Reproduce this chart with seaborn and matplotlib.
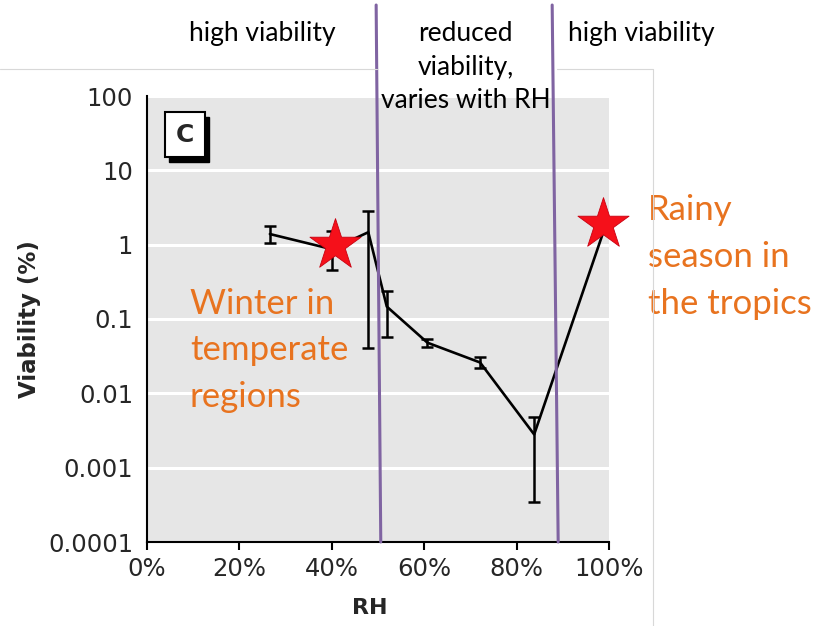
import matplotlib
matplotlib.use("Agg")
import matplotlib.pyplot as plt
import matplotlib.patches as mpatches
import matplotlib.transforms as mtransforms
import seaborn as sns
import pandas as pd
import numpy as np

# ---- data ----
rh = [26.6, 40.0, 47.9, 51.9, 60.7, 72.1, 83.8, 99.0]
viability = [1.39, 0.87, 1.47, 0.147, 0.048, 0.026, 0.0028, 1.63]
err_high = [1.8, 1.55, 2.87, 0.235, 0.054, 0.031, 0.0048, 1.86]
err_low = [1.04, 0.45, 0.041, 0.057, 0.042, 0.022, 0.00035, 1.47]

star_rh = [40.7, 98.7]
star_viability = [1.0, 1.9]

x_ticks = [0, 20, 40, 60, 80, 100]
x_labels = ["0%", "20%", "40%", "60%", "80%", "100%"]
y_ticks = [0.0001, 0.001, 0.01, 0.1, 1, 10, 100]
y_labels = ["0.0001", "0.001", "0.01", "0.1", "1", "10", "100"]

boundary_top = [49.6, 87.7]
boundary_bottom = [50.6, 89.0]

df = pd.DataFrame({"RH": rh, "Viability": viability})
stars = pd.DataFrame({"RH": star_rh, "Viability": star_viability})

sns.set_style("darkgrid", {"axes.facecolor": "#E6E6E6", "grid.color": "white",
                           "axes.edgecolor": "black"})
plt.rcParams["font.family"] = ["DejaVu Sans"]

fig = plt.figure(figsize=(8.17, 6.26), dpi=100)
ax = fig.add_axes([147 / 817, 84 / 626, 462 / 817, 446 / 626])

ax.set_yscale("log")
ax.set_xlim(0, 100)
ax.set_ylim(0.0001, 100)

ax.grid(True, axis="y", color="white", linewidth=2.2)
ax.grid(False, axis="x")

# error bars
yerr = [np.array(viability) - np.array(err_low), np.array(err_high) - np.array(viability)]
ax.errorbar(rh, viability, yerr=yerr, fmt="none", ecolor="black", elinewidth=1.8,
            capsize=4.5, capthick=1.8, zorder=3)
sns.lineplot(data=df, x="RH", y="Viability", ax=ax, color="black", linewidth=1.9,
             sort=False, zorder=4)

# stars
sns.scatterplot(data=stars, x="RH", y="Viability", ax=ax, marker="*", s=1500,
                color="#F5101A", edgecolor="#C80010", linewidth=0.6, zorder=5,
                clip_on=False)

# boundary lines (partly above the axes)
trans = mtransforms.blended_transform_factory(ax.transData, ax.transAxes)
for xt, xb in zip(boundary_top, boundary_bottom):
    ax.plot([xt, xb], [1.204, 0.0], transform=trans, color="#8064A2", linewidth=2.2,
            clip_on=False, zorder=6)

# ticks
ax.set_xticks(x_ticks)
ax.set_xticklabels(x_labels)
ax.set_yticks(y_ticks)
ax.set_yticklabels(y_labels)
ax.yaxis.set_minor_locator(matplotlib.ticker.NullLocator())
ax.tick_params(axis="x", direction="out", length=6, width=1.5, color="black",
               labelsize=17.5, labelcolor="#262626", pad=5, bottom=True)
ax.tick_params(axis="y", length=0, labelsize=17.5, labelcolor="#262626", pad=10)

for side in ["top", "right"]:
    ax.spines[side].set_visible(False)
for side in ["left", "bottom"]:
    ax.spines[side].set_visible(True)
    ax.spines[side].set_color("black")
    ax.spines[side].set_linewidth(1.5)

ax.set_xlabel("RH", fontsize=16, fontweight="bold", labelpad=12)
ax.xaxis.label.set_x(0.482)
ax.set_ylabel("Viability (%)", fontsize=16.5, fontweight="bold", labelpad=5)

# panel "C" box with shadow
ax.add_patch(mpatches.Rectangle((0.048, 0.853), 0.087, 0.101, transform=ax.transAxes,
                                facecolor="black", edgecolor="black", zorder=7))
ax.add_patch(mpatches.Rectangle((0.039, 0.863), 0.087, 0.101, transform=ax.transAxes,
                                facecolor="white", edgecolor="black", linewidth=1.5, zorder=8))
ax.text(0.0825, 0.913, "C", transform=ax.transAxes, ha="center", va="center",
        fontsize=18, fontweight="bold", zorder=9)

# region labels above
lab_font = dict(family=["Lato", "DejaVu Sans"], fontsize=19, color="black")
ax.text(24.9, 1.141, "high viability", transform=trans, ha="center", va="center", **lab_font)
ax.text(69.0, 1.065, "reduced\nviability,\nvaries with RH", transform=trans, ha="center",
        va="center", linespacing=1.42, **lab_font)
ax.text(107.1, 1.141, "high viability", transform=trans, ha="center", va="center",
        clip_on=False, **lab_font)

# orange annotations
orange = dict(family=["Lato", "DejaVu Sans"], fontsize=25, color="#E8731F")
ax.text(9.3, 0.43, "Winter in\ntemperate\nregions", transform=trans, ha="left",
        va="center", linespacing=1.56, zorder=6, **orange)
ax.text(108.4, 0.639, "Rainy\nseason in\nthe tropics", transform=trans, ha="left",
        va="center", linespacing=1.56, clip_on=False, **orange)

# faint frame of the embedded image (hidden behind the middle label)
fy = 1 - 69 / 626
fx = 653 / 817
for x0, x1 in [(0, 377 / 817), (557 / 817, fx)]:
    fig.add_artist(plt.Line2D([x0, x1], [fy, fy], color="#D8D8D8", linewidth=0.8,
                              transform=fig.transFigure))
fig.add_artist(plt.Line2D([fx, fx], [0, fy], color="#D8D8D8", linewidth=0.8,
                          transform=fig.transFigure))

fig.savefig("out.png", dpi=100, facecolor="white")
